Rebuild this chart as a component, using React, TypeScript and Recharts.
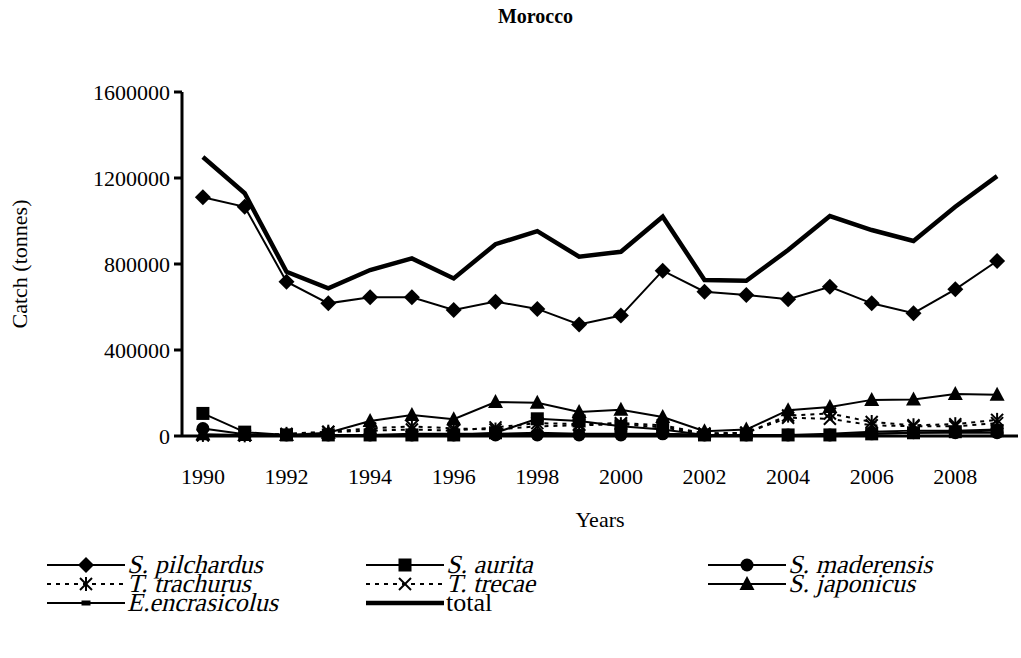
import React from 'react';
import { LineChart, Line, XAxis, YAxis } from 'recharts';

const years = [1990, 1991, 1992, 1993, 1994, 1995, 1996, 1997, 1998, 1999, 2000, 2001, 2002, 2003, 2004, 2005, 2006, 2007, 2008, 2009];
const pilchardus = [1110000, 1066000, 718000, 617000, 645000, 645000, 586000, 625000, 591000, 519000, 560000, 769000, 671000, 656000, 636000, 694000, 617000, 571000, 682000, 814000];
const aurita = [105000, 18000, 5000, 5000, 5000, 5000, 5000, 15000, 80000, 70000, 45000, 30000, 5000, 5000, 5000, 5000, 10000, 15000, 20000, 25000];
const maderensis = [35000, 8000, 5000, 5000, 5000, 5000, 5000, 5000, 5000, 5000, 5000, 10000, 5000, 5000, 5000, 5000, 10000, 15000, 15000, 15000];
const trachurus = [5000, 3000, 10000, 20000, 35000, 45000, 35000, 30000, 45000, 50000, 55000, 40000, 10000, 15000, 95000, 105000, 65000, 50000, 55000, 75000];
const trecae = [3000, 2000, 8000, 18000, 25000, 30000, 25000, 40000, 60000, 55000, 60000, 50000, 12000, 15000, 85000, 80000, 50000, 45000, 45000, 60000];
const japonicus = [8000, 5000, 5000, 15000, 70000, 98000, 78000, 158000, 155000, 112000, 122000, 88000, 22000, 30000, 120000, 135000, 168000, 170000, 195000, 192000];
const encrasicolus = [2000, 2000, 2000, 5000, 5000, 10000, 10000, 10000, 15000, 10000, 10000, 10000, 5000, 5000, 5000, 10000, 20000, 25000, 25000, 30000];
const total = [1298000, 1129000, 764000, 687000, 772000, 826000, 733000, 892000, 953000, 834000, 857000, 1020000, 726000, 722000, 865000, 1023000, 958000, 907000, 1066000, 1209000];

const yTicks = [0, 400000, 800000, 1200000, 1600000];
const yearLabels = [1990, 1992, 1994, 1996, 1998, 2000, 2002, 2004, 2006, 2008];
const yearBounds = [1989.5, 1990.5, 1991.5, 1992.5, 1993.5, 1994.5, 1995.5, 1996.5, 1997.5, 1998.5, 1999.5, 2000.5, 2001.5, 2002.5, 2003.5, 2004.5, 2005.5, 2006.5, 2007.5, 2008.5, 2009.5];

const data = years.map((year, i) => ({
  year,
  pilchardus: pilchardus[i],
  aurita: aurita[i],
  maderensis: maderensis[i],
  trachurus: trachurus[i],
  trecae: trecae[i],
  japonicus: japonicus[i],
  encrasicolus: encrasicolus[i],
  total: total[i],
}));

const font = '"Liberation Serif", "Times New Roman", Times, serif';

function marker(shape: string, cx: number, cy: number, key?: any) {
  if (shape === 'diamond')
    return <polygon key={key} points={`${cx},${cy - 8} ${cx + 8},${cy} ${cx},${cy + 8} ${cx - 8},${cy}`} fill="#000" />;
  if (shape === 'square')
    return <rect key={key} x={cx - 6.5} y={cy - 6.5} width={13} height={13} fill="#000" />;
  if (shape === 'circle')
    return <circle key={key} cx={cx} cy={cy} r={6.5} fill="#000" />;
  if (shape === 'triangle')
    return <polygon key={key} points={`${cx},${cy - 8} ${cx + 7.5},${cy + 6} ${cx - 7.5},${cy + 6}`} fill="#000" />;
  if (shape === 'dash')
    return <rect key={key} x={cx - 4.5} y={cy - 2.5} width={9} height={5} fill="#000" />;
  if (shape === 'star')
    return (
      <g key={key} stroke="#000" strokeWidth={2}>
        <line x1={cx - 6} y1={cy - 6} x2={cx + 6} y2={cy + 6} />
        <line x1={cx - 6} y1={cy + 6} x2={cx + 6} y2={cy - 6} />
        <line x1={cx} y1={cy - 7} x2={cx} y2={cy + 7} />
      </g>
    );
  if (shape === 'cross')
    return (
      <g key={key} stroke="#000" strokeWidth={2}>
        <line x1={cx - 6} y1={cy - 6} x2={cx + 6} y2={cy + 6} />
        <line x1={cx - 6} y1={cy + 6} x2={cx + 6} y2={cy - 6} />
      </g>
    );
  return <g key={key} />;
}

const dot = (shape: string) => (props: any) => marker(shape, props.cx, props.cy, props.key ?? props.index);

const series = [
  { key: 'pilchardus', name: 'S. pilchardus', shape: 'diamond', width: 2, dash: undefined, italic: true },
  { key: 'aurita', name: 'S. aurita', shape: 'square', width: 2, dash: undefined, italic: true },
  { key: 'maderensis', name: 'S. maderensis', shape: 'circle', width: 2, dash: undefined, italic: true },
  { key: 'trachurus', name: 'T. trachurus', shape: 'star', width: 2, dash: '4 5', italic: true },
  { key: 'trecae', name: 'T. trecae', shape: 'cross', width: 2, dash: '4 5', italic: true },
  { key: 'japonicus', name: 'S. japonicus', shape: 'triangle', width: 2, dash: undefined, italic: true },
  { key: 'encrasicolus', name: 'E.encrasicolus', shape: 'dash', width: 2, dash: undefined, italic: true },
  { key: 'total', name: 'total', shape: 'none', width: 4.5, dash: undefined, italic: false },
];

const legendCols = [47, 366, 708];
const legendRows = [565, 584, 603];

function LegendBox() {
  return (
    <svg width={1021} height={658} style={{ position: 'absolute', left: 0, top: 0, pointerEvents: 'none' }}>
      {series.map((s, i) => {
        const x = legendCols[i % 3];
        const y = legendRows[Math.floor(i / 3)];
        return (
          <g key={s.key}>
            <line x1={x} y1={y} x2={x + 78} y2={y} stroke="#000" strokeWidth={s.width} strokeDasharray={s.dash} />
            {marker(s.shape, x + 39, y)}
            <g transform={`translate(${x + 80}, ${y + 8})`}>
              <text x={0} y={0} transform={s.italic ? 'skewX(-14)' : undefined} fontFamily="Liberation Serif" fontSize={26} fill="#000">{s.name}</text>
            </g>
          </g>
        );
      })}
    </svg>
  );
}

export default function App() {
  return (
    <div style={{ position: 'absolute', left: 0, top: 0, width: 1021, height: 658, overflow: 'hidden', background: '#fff' }}>
      <div style={{ position: 'absolute', left: 0, width: 1071, top: 5, textAlign: 'center', fontFamily: font, fontWeight: 'bold', fontSize: 20 }}>Morocco</div>
      <div style={{ position: 'absolute', left: 20, top: 264, width: 0, height: 0 }}>
        <div style={{ position: 'absolute', transform: 'translate(-50%, -50%) rotate(-90deg)', fontFamily: font, fontSize: 22, whiteSpace: 'nowrap' }}>Catch (tonnes)</div>
      </div>
      <div style={{ position: 'absolute', left: 0, width: 1200, top: 507, textAlign: 'center', fontFamily: font, fontSize: 22 }}>Years</div>
      <LineChart width={1021} height={658} data={data} margin={{ top: 92, right: 3, left: 82, bottom: 172 }}>
        <XAxis xAxisId="a" dataKey="year" type="number" domain={[1989.5, 2009.5]} ticks={yearBounds} height={10} tick={false} tickSize={8}
          axisLine={{ stroke: '#000', strokeWidth: 3 }} tickLine={{ stroke: '#000', strokeWidth: 3 }} />
        <XAxis xAxisId="z" dataKey="year" type="number" domain={[1989.5, 2009.5]} ticks={yearLabels} height={40} axisLine={false} tickLine={false}
          tickMargin={16} tick={{ fill: '#000', fontFamily: font, fontSize: 22 }} interval={0} />
        <YAxis type="number" domain={[0, 1600000]} ticks={yTicks} width={100} tickSize={8} tickMargin={4} interval={0}
          axisLine={{ stroke: '#000', strokeWidth: 3 }} tickLine={{ stroke: '#000', strokeWidth: 3 }}
          tick={{ fill: '#000', fontFamily: font, fontSize: 22 }} />
        {series.map((s) => (
          <Line key={s.key} xAxisId="z" dataKey={s.key} name={s.name} type="linear" stroke="#000" strokeWidth={s.width}
            strokeDasharray={s.dash} dot={s.shape === 'none' ? false : dot(s.shape)} activeDot={false} isAnimationActive={false} />
        ))}
      </LineChart>
      <LegendBox />
    </div>
  );
}
